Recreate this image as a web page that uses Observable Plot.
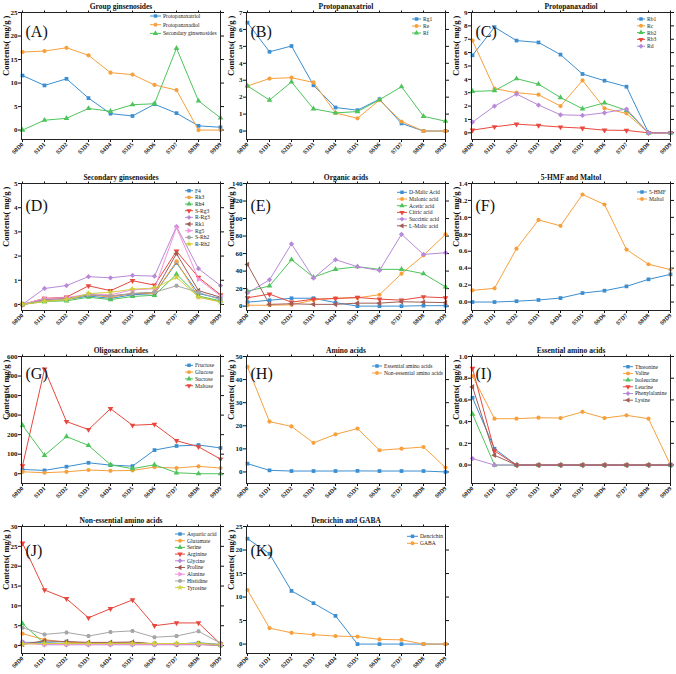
<!DOCTYPE html>
<html><head><meta charset="utf-8">
<script src="https://cdn.jsdelivr.net/npm/d3@7"></script>
<script src="https://cdn.jsdelivr.net/npm/@observablehq/plot@0.6"></script>
<style>
body{margin:0;background:#fff;}
#wrap{position:relative;width:676px;height:674px;overflow:hidden;background:#fff;font-family:"Liberation Serif","Times New Roman",serif;}
.panel{position:absolute;width:226px;height:170px;}
.panel svg{position:absolute;left:0;top:0;overflow:visible;}
</style></head><body><div id="wrap"></div>
<script>
const stages = ["S0D0","S1D1","S2D2","S3D3","S4D4","S5D5","S6D6","S7D7","S8D8","S9D9"];

// (A) Group ginsenosides
const protopanaxatriol = [11.6, 9.5, 10.9, 6.8, 3.5, 3.0, 5.5, 3.6, 0.9, 0.6];
const protopanaxadiol  = [16.6, 16.8, 17.5, 15.9, 12.2, 11.8, 9.6, 8.5, 0, 0];
const secondaryGins    = [0, 2.1, 2.5, 4.6, 4.0, 5.4, 5.6, 17.4, 6.2, 2.6];
// (B) Protopanaxatriol
const rg1 = [6.4, 4.68, 5.02, 2.7, 1.39, 1.23, 1.88, 0.45, 0, 0];
const re  = [2.66, 3.1, 3.15, 2.87, 1.07, 0.75, 1.83, 0.56, 0, 0];
const rf  = [2.66, 1.83, 2.9, 1.31, 1.07, 1.15, 1.85, 2.62, 0.87, 0.58];
// (C) Protopanaxadiol
const rb1 = [5.8, 7.9, 6.9, 6.76, 5.85, 4.4, 3.9, 3.45, 0, 0];
const rc  = [6.9, 3.3, 3.0, 2.85, 2.0, 3.92, 1.83, 1.45, 0, 0];
const rb2 = [3.1, 3.15, 4.05, 3.64, 2.64, 1.8, 2.24, 1.68, 0, 0];
const rb3 = [0.2, 0.45, 0.65, 0.55, 0.43, 0.35, 0.2, 0.18, 0, 0];
const rd  = [0.8, 2.0, 2.9, 2.08, 1.35, 1.3, 1.5, 1.78, 0, 0];
// (D) Secondary ginsenosides
const f4   = [0, 0.15, 0.2, 0.35, 0.25, 0.4, 0.45, 1.72, 0.45, 0.25];
const rk3  = [0, 0.15, 0.2, 0.4, 0.3, 0.45, 0.45, 1.78, 0.3, 0.12];
const rh4  = [0, 0.12, 0.15, 0.3, 0.2, 0.33, 0.38, 1.25, 0.35, 0.15];
const sRg3 = [0, 0.25, 0.3, 0.77, 0.57, 0.98, 0.8, 2.2, 1.12, 0.4];
const rRg3 = [0, 0.66, 0.78, 1.15, 1.1, 1.2, 1.17, 3.22, 1.48, 0.78];
const rk1  = [0, 0.2, 0.25, 0.4, 0.35, 0.45, 0.5, 2.1, 0.57, 0.3];
const rg5  = [0, 0.25, 0.28, 0.43, 0.4, 0.6, 0.65, 3.18, 1.05, 0.35];
const sRh2 = [0, 0.18, 0.22, 0.4, 0.35, 0.45, 0.5, 0.77, 0.5, 0.2];
const rRh2 = [0, 0.12, 0.2, 0.45, 0.5, 0.63, 0.68, 1.12, 0.3, 0.1];
// (E) Organic acids
const dMalic    = [4.5, 6.7, 9, 9, 4, 0, 0, 0, 0.5, 0.5];
const malonic   = [1, 1, 1.5, 7, 9, 9.5, 13, 37, 58, 82];
const acetic    = [17, 23, 53, 33, 42, 45, 42, 42, 37, 22];
const citric    = [9.5, 13.7, 4.5, 8, 8.7, 9.9, 8, 6.8, 10.6, 9.5];
const succinic  = [15, 30, 71, 32, 53, 45, 40.7, 82, 59, 61];
const lMalic    = [47.5, 2, 2.7, 2, 2, 3.4, 3.4, 5, 4.5, 4];
// (F) 5-HMF and Maltol
const hmf    = [0, 0, 0.01, 0.024, 0.047, 0.106, 0.134, 0.185, 0.268, 0.327];
const maltol = [0.138, 0.162, 0.63, 0.97, 0.9, 1.27, 1.152, 0.62, 0.446, 0.383];
// (G) Oligosaccharides
const fructose = [22, 17, 36, 56, 44, 39, 121, 142, 147, 132];
const glucose  = [10, 5, 10, 19, 15, 17, 34, 29, 38, 29];
const sucrose  = [248, 94, 190, 145, 46, 26, 46, 5, 0, 0];
const maltose  = [40, 535, 267, 226, 333, 248, 253, 169, 138, 75];
// (H) Amino acids
const essentialAA    = [3.6, 0.7, 0.4, 0.4, 0.4, 0.45, 0.4, 0.4, 0.4, 0];
const nonEssentialAA = [45.5, 21.8, 19.7, 12.6, 16.3, 18.8, 9.4, 10.1, 10.8, 1.9];
// (I) Essential amino acids
const threonine     = [0.62, 0.15, 0, 0, 0, 0, 0, 0, 0, 0];
const valine        = [0.82, 0.427, 0.427, 0.436, 0.433, 0.49, 0.433, 0.458, 0.427, 0];
const isoleucine    = [0.47, 0, 0, 0, 0, 0, 0, 0, 0, 0];
const leucine       = [0.89, 0.13, 0, 0, 0, 0, 0, 0, 0, 0];
const phenylalanine = [0.06, 0, 0, 0, 0, 0, 0, 0, 0, 0];
const lysine        = [0.72, 0.09, 0, 0, 0, 0, 0, 0, 0, 0];
// (J) Non-essential amino acids
const aspartic  = [0.8, 0.8, 1.0, 0.5, 0.6, 0.6, 0.5, 0.4, 0.7, 0.3];
const glutamate = [3.0, 1.5, 0.8, 0.7, 0.7, 0.7, 0.5, 0.4, 0.5, 0.1];
const serine    = [5.5, 0.5, 0.5, 0.5, 0.4, 0.4, 0.3, 0.3, 0.3, 0.1];
const arginine  = [25.8, 14.0, 11.8, 7.0, 9.3, 11.5, 5.0, 5.7, 5.7, 0.4];
const glycine   = [0.9, 0.2, 0.2, 0.2, 0.2, 0.2, 0.2, 0.2, 0.2, 0.2];
const proline   = [0.3, 1.2, 1.0, 0.8, 0.8, 0.9, 0.4, 0.3, 0.3, 0.1];
const alanine   = [0.5, 0.3, 0.3, 0.3, 0.3, 0.3, 0.3, 0.3, 0.3, 0.1];
const histidine = [4.5, 2.8, 3.3, 2.4, 3.4, 3.7, 2.1, 2.4, 3.6, 0.6];
const tyrosine  = [0.4, 0.5, 0.5, 0.5, 0.5, 0.5, 0.5, 0.5, 0.5, 0.3];
// (K) Dencichin and GABA
const dencichin = [22.4, 19.2, 11.3, 8.7, 6.0, 0, 0, 0, 0, 0];
const gaba      = [11.5, 3.4, 2.4, 2.0, 1.7, 1.6, 1.0, 0.9, 0, 0];

const COLORS = ["#3b8ed0","#f7a03c","#4ec45a","#e8483e","#b889d8","#a05e57","#f291dd","#a6a6a6","#cfcf3c"];

function tri(angle){ return {draw(ctx, size){ const R = Math.sqrt(size/1.299); for(let k=0;k<3;k++){ const a = angle + k*2*Math.PI/3; const x=R*Math.cos(a), y=R*Math.sin(a); if(k) ctx.lineTo(x,y); else ctx.moveTo(x,y);} ctx.closePath(); }}; }
const diamondSq = {draw(ctx, size){ const r = Math.sqrt(size/2); ctx.moveTo(0,-r); ctx.lineTo(r,0); ctx.lineTo(0,r); ctx.lineTo(-r,0); ctx.closePath(); }};
const hexSym = {draw(ctx, size){ const R = Math.sqrt(size/2.598); for(let k=0;k<6;k++){ const a = k*Math.PI/3; const x=R*Math.cos(a), y=R*Math.sin(a); if(k) ctx.lineTo(x,y); else ctx.moveTo(x,y);} ctx.closePath(); }};
const SYMS = [d3.symbolSquare, d3.symbolCircle, tri(-Math.PI/2), tri(Math.PI/2), diamondSq, tri(Math.PI), tri(0), hexSym, d3.symbolStar];

const ROWS = [0, 171, 344, 514];
const COLS = [0, 225, 450];
const LABDY = [13, 16, 11.5, 18];
const f1 = d3.format(".1f");

const panels = [
 {tag:"(A)", title:"Group ginsenosides", row:0, col:0, y:[-2,25], ticks:d3.range(0,26,5),
  series:[["Protopanaxatriol",protopanaxatriol],["Protopanaxadiol",protopanaxadiol],["Secondary ginsenosides",secondaryGins]],
  leg:{x:150,y:16,dy:8.7,len:11}},
 {tag:"(B)", title:"Protopanaxatriol", row:0, col:1, y:[-0.5,7], ticks:d3.range(0,8,1),
  series:[["Rg1",rg1],["Re",re],["Rf",rf]], leg:{x:187,y:19,dy:7,len:9}},
 {tag:"(C)", title:"Protopanaxadiol", row:0, col:2, y:[-0.5,9], ticks:d3.range(0,10,1),
  series:[["Rb1",rb1],["Rc",rc],["Rb2",rb2],["Rb3",rb3],["Rd",rd]], leg:{x:187,y:19,dy:6.8,len:8}},
 {tag:"(D)", title:"Secondary ginsenosides", row:1, col:0, y:[-0.25,5], ticks:d3.range(0,6,1),
  series:[["F4",f4],["Rk3",rk3],["Rh4",rh4],["S-Rg3",sRg3],["R-Rg3",rRg3],["Rk1",rk1],["Rg5",rg5],["S-Rh2",sRh2],["R-Rh2",rRh2]],
  leg:{x:185,y:19.7,dy:6.67,len:8}},
 {tag:"(E)", title:"Organic acids", row:1, col:1, y:[-5,140], ticks:d3.range(0,141,20),
  series:[["D-Malic Acid",dMalic],["Malonic acid",malonic],["Acetic acid",acetic],["Citric acid",citric],["Succinic acid",succinic],["L-Malic acid",lMalic]],
  leg:{x:172,y:21.3,dy:6.7,len:10}},
 {tag:"(F)", title:"5-HMF and Maltol", row:1, col:2, y:[-0.1,1.4], ticks:d3.range(0,1.41,0.2), fmt:f1,
  series:[["5-HMF",hmf],["Maltol",maltol]], leg:{x:187,y:21,dy:7,len:10}},
 {tag:"(G)", title:"Oligosaccharides", row:2, col:0, y:[-50,600], ticks:d3.range(0,601,100),
  series:[["Fructose",fructose],["Glucose",glucose],["Sucrose",sucrose],["Maltose",maltose]],
  leg:{x:185,y:21.3,dy:6.8,len:8}},
 {tag:"(H)", title:"Amino acids", row:2, col:1, y:[-5,50], ticks:d3.range(0,51,10),
  series:[["Essential amino acids",essentialAA],["Non-essential amino acids",nonEssentialAA]],
  leg:{x:147,y:22,dy:7,len:10}},
 {tag:"(I)", title:"Essential amino acids", row:2, col:2, y:[-0.17,1.0], ticks:d3.range(0,1.01,0.2), fmt:f1,
  series:[["Threonine",threonine],["Valine",valine],["Isoleucine",isoleucine],["Leucine",leucine],["Phenylalanine",phenylalanine],["Lysine",lysine]],
  leg:{x:173,y:22.7,dy:6.7,len:10}},
 {tag:"(J)", title:"Non-essential amino acids", row:3, col:0, y:[-2,30], ticks:d3.range(0,31,5),
  series:[["Aspartic acid",aspartic],["Glutamate",glutamate],["Serine",serine],["Arginine",arginine],["Glycine",glycine],["Proline",proline],["Alanine",alanine],["Histidine",histidine],["Tyrosine",tyrosine]],
  leg:{x:175,y:20,dy:6.7,len:10}},
 {tag:"(K)", title:"Dencichin and GABA", row:3, col:1, y:[-2,25], ticks:d3.range(0,26,5),
  series:[["Dencichin",dencichin],["GABA",gaba]], leg:{x:182,y:22.3,dy:7,len:11}}
];

const W = 226, H = 168, ML = 21, MR = 6, MT = 12, MB = 29;
const wrap = document.getElementById("wrap");

for (const p of panels) {
  const div = document.createElement("div");
  div.className = "panel";
  div.style.left = COLS[p.col] + "px";
  div.style.top = ROWS[p.row] + "px";
  wrap.appendChild(div);

  const marks = [];
  p.series.forEach(([name, vals], i) => {
    const data = vals.map((v, j) => ({x: stages[j], y: v}));
    marks.push(Plot.line(data, {x: "x", y: "y", stroke: COLORS[i], strokeWidth: 1}));
    marks.push(Plot.dot(data, {x: "x", y: "y", symbol: SYMS[i], fill: COLORS[i], stroke: "none", r: 2.1}));
  });

  const chart = Plot.plot({
    width: W, height: H, marginLeft: ML, marginRight: MR, marginTop: MT, marginBottom: MB,
    style: {fontFamily: "'Liberation Serif','Times New Roman',serif", fontWeight: "bold", fontSize: "7px", color: "#111", background: "transparent", overflow: "visible"},
    x: {type: "point", domain: stages, padding: 0, axis: null},
    y: {domain: p.y, axis: null},
    marks: [
      Plot.axisY({ticks: p.ticks, anchor: "left", tickSize: 3, tickPadding: 1, tickFormat: p.fmt || (d => d3.format("d")(d)), label: null, fontSize: 7}),
      Plot.axisY({ticks: p.ticks, anchor: "right", tickSize: 3, tickPadding: 0, tickFormat: () => "", label: null}),
      Plot.axisX({anchor: "bottom", tickSize: 3, tickPadding: 1, tickRotate: -45, label: null, fontSize: 6}),
      Plot.axisX({anchor: "top", tickSize: 2.5, tickPadding: 0, tickFormat: () => "", label: null}),
      ...marks,
      Plot.frame({stroke: "#222", strokeWidth: 1}),
      Plot.text(["Contents( mg/g )"], {frameAnchor: "left", rotate: -90, dx: -15, fontSize: 8.5, fontWeight: "bold"}),
      Plot.text([p.title], {frameAnchor: "top", dy: -8.5, fontSize: 7.5, fontWeight: "bold"}),
      Plot.text([p.tag], {frameAnchor: "top-left", dx: 4, dy: LABDY[p.row], fontSize: 16, fontWeight: "normal", textAnchor: "start"})
    ]
  });
  div.appendChild(chart);

  // legend
  const svg = d3.create("svg").attr("width", W).attr("height", 170).style("pointer-events", "none");
  p.series.forEach(([name], i) => {
    const L = p.leg, yy = L.y + i * L.dy;
    svg.append("line").attr("x1", L.x).attr("x2", L.x + L.len).attr("y1", yy).attr("y2", yy).attr("stroke", COLORS[i]).attr("stroke-width", 1);
    svg.append("path").attr("d", d3.symbol(SYMS[i], 12)()).attr("transform", `translate(${L.x + L.len/2},${yy})`).attr("fill", COLORS[i]);
    svg.append("text").attr("x", L.x + L.len + 2).attr("y", yy).attr("dy", "0.35em")
      .attr("font-family", "'Liberation Serif','Times New Roman',serif").attr("font-size", 5.6).attr("fill", "#222").text(name);
  });
  div.appendChild(svg.node());
}
</script></body></html>
